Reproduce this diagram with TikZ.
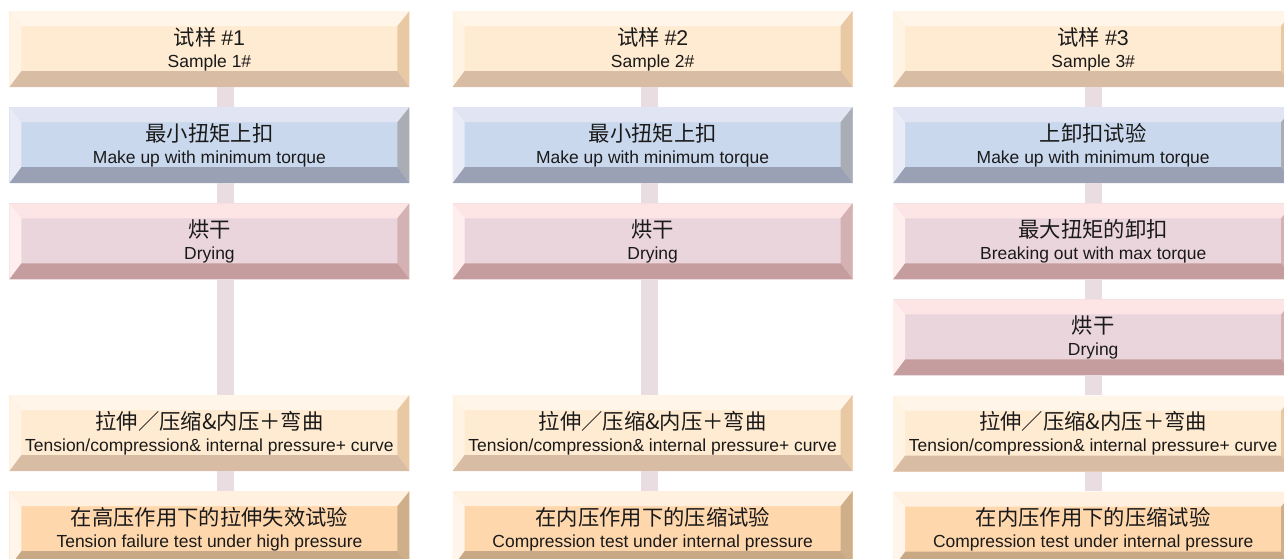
\documentclass[tikz,border=0pt]{standalone}
\usepackage{fontspec}
\setmainfont{Liberation Sans}
\newfontfamily\cjk{Noto Sans CJK SC}
\usepackage{tikz}
\usetikzlibrary{positioning}
\definecolor{FlowLink}{HTML}{EADDE2}
\definecolor{FlowInk}{HTML}{1A1A1A}
\definecolor{PeachTop}{HTML}{FFF5E8}
\definecolor{PeachLeft}{HTML}{FFF3E4}
\definecolor{PeachFace}{HTML}{FFEBD1}
\definecolor{PeachRight}{HTML}{E8C9A4}
\definecolor{PeachBottom}{HTML}{D9BCA4}
\definecolor{BlueTop}{HTML}{E1E5F3}
\definecolor{BlueLeft}{HTML}{E9EBF6}
\definecolor{BlueFace}{HTML}{CAD8EE}
\definecolor{BlueRight}{HTML}{AAADB4}
\definecolor{BlueBottom}{HTML}{9AA1B5}
\definecolor{RoseTop}{HTML}{FDE5E5}
\definecolor{RoseLeft}{HTML}{FEEFEE}
\definecolor{RoseFace}{HTML}{EBD5DC}
\definecolor{RoseRight}{HTML}{D4B1B2}
\definecolor{RoseBottom}{HTML}{C69D9E}
\definecolor{OrangeTop}{HTML}{FFF0E0}
\definecolor{OrangeLeft}{HTML}{FFF5EA}
\definecolor{OrangeFace}{HTML}{FFD7AD}
\definecolor{OrangeRight}{HTML}{CFAE8A}
\definecolor{OrangeBottom}{HTML}{C9A886}
\newcommand{\zhline}[1]{{\cjk\fontsize{16}{16.5}\selectfont #1}}

\begin{document}
\begin{tikzpicture}[
  node distance=14.7pt and 31pt,
  box/.style={minimum width=300pt,minimum height=57pt,inner sep=0pt,align=center,text=FlowInk,font=\fontsize{13.1}{16.5}\selectfont},
  bevel/.style n args={5}{box,fill=#3,path picture={
    \coordinate (bbnw) at (path picture bounding box.north west);
    \coordinate (bbne) at (path picture bounding box.north east);
    \coordinate (bbsw) at (path picture bounding box.south west);
    \coordinate (bbse) at (path picture bounding box.south east);
    \fill[#1] (bbnw) -- (bbne) -- ([shift={(-9pt,-11.25pt)}]bbne) -- ([shift={(9pt,-11.25pt)}]bbnw) -- cycle;
    \fill[#2] (bbnw) -- ([shift={(9pt,-11.25pt)}]bbnw) -- ([shift={(9pt,12pt)}]bbsw) -- (bbsw) -- cycle;
    \fill[#4] (bbne) -- ([shift={(-9pt,-11.25pt)}]bbne) -- ([shift={(-9pt,12pt)}]bbse) -- (bbse) -- cycle;
    \fill[#5] (bbsw) -- ([shift={(9pt,12pt)}]bbsw) -- ([shift={(-9pt,12pt)}]bbse) -- (bbse) -- cycle;
  }},
  sample/.style={bevel={PeachTop}{PeachLeft}{PeachFace}{PeachRight}{PeachBottom}},
  makeup/.style={bevel={BlueTop}{BlueLeft}{BlueFace}{BlueRight}{BlueBottom}},
  drying/.style={bevel={RoseTop}{RoseLeft}{RoseFace}{RoseRight}{RoseBottom}},
  load/.style={bevel={PeachTop}{PeachLeft}{PeachFace}{PeachRight}{PeachBottom}},
  final/.style={bevel={OrangeTop}{OrangeLeft}{OrangeFace}{OrangeRight}{OrangeBottom}},
  link/.style={line width=12.75pt,draw=FlowLink}
]
  \useasboundingbox (0,0) rectangle (963pt,-418.5pt);
  % sample 1
  \node[sample] (s1) at (157.1pt,-36.75pt) {\zhline{试样} \fontsize{16}{16.5}\selectfont\#1\\Sample 1\#};
  \node[makeup,below=of s1] (m1) {\zhline{最小扭矩上扣}\\Make up with minimum torque};
  \node[drying,below=of m1] (d1) {\zhline{烘干}\\Drying};
  \node[load,below=86.4pt of d1] (t1) {\zhline{拉伸／压缩\&内压＋弯曲}\\Tension/compression\& internal pressure+ curve};
  \node[final,below=of t1] (f1) {\zhline{在高压作用下的拉伸失效试验}\\Tension failure test under high pressure};
  % sample 2
  \node[sample,right=32pt of s1] (s2) {\zhline{试样} \fontsize{16}{16.5}\selectfont\#2\\Sample 2\#};
  \node[makeup,below=of s2] (m2) {\zhline{最小扭矩上扣}\\Make up with minimum torque};
  \node[drying,below=of m2] (d2) {\zhline{烘干}\\Drying};
  \node[load,below=86.4pt of d2] (t2) {\zhline{拉伸／压缩\&内压＋弯曲}\\Tension/compression\& internal pressure+ curve};
  \node[final,below=of t2] (f2) {\zhline{在内压作用下的压缩试验}\\Compression test under internal pressure};
  % sample 3
  \node[sample,right=30pt of s2] (s3) {\zhline{试样} \fontsize{16}{16.5}\selectfont\#3\\Sample 3\#};
  \node[makeup,below=of s3] (m3) {\zhline{上卸扣试验}\\Make up with minimum torque};
  \node[drying,below=of m3] (b3) {\zhline{最大扭矩的卸扣}\\Breaking out with max torque};
  \node[drying,below=of b3] (d3) {\zhline{烘干}\\Drying};
  \node[load,below=of d3] (t3) {\zhline{拉伸／压缩\&内压＋弯曲}\\Tension/compression\& internal pressure+ curve};
  \node[final,below=of t3] (f3) {\zhline{在内压作用下的压缩试验}\\Compression test under internal pressure};
  % links
  \draw[link] ([xshift=12pt]s1.south) -- ([xshift=12pt]m1.north);
  \draw[link] ([xshift=12pt]m1.south) -- ([xshift=12pt]d1.north);
  \draw[link] ([xshift=12pt]d1.south) -- ([xshift=12pt]t1.north);
  \draw[link] ([xshift=12pt]t1.south) -- ([xshift=12pt]f1.north);
  \draw[link] ([xshift=-2.6pt]s2.south) -- ([xshift=-2.6pt]m2.north);
  \draw[link] ([xshift=-2.6pt]m2.south) -- ([xshift=-2.6pt]d2.north);
  \draw[link] ([xshift=-2.6pt]d2.south) -- ([xshift=-2.6pt]t2.north);
  \draw[link] ([xshift=-2.6pt]t2.south) -- ([xshift=-2.6pt]f2.north);
  \draw[link] (s3) -- (m3);
  \draw[link] (m3) -- (b3);
  \draw[link] (b3) -- (d3);
  \draw[link] (d3) -- (t3);
  \draw[link] (t3) -- (f3);
\end{tikzpicture}
\end{document}
